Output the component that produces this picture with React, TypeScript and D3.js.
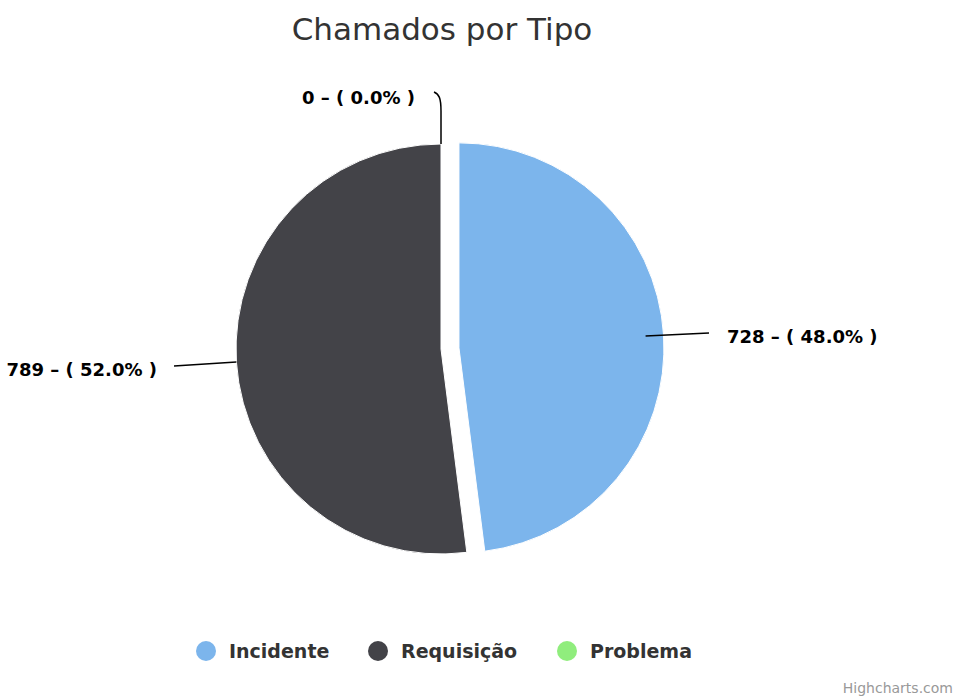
import React from "react";
import * as d3 from "d3";

const categories = ["Incidente", "Requisição", "Problema"];
const values = [728, 789, 0];
const colors = ["#7cb5ec", "#434348", "#90ed7d"];
const title = "Chamados por Tipo";

const W = 956, H = 698;
const cx = 441, cy = 349, R = 205, sliceOffset = 18;

export default function App() {
  const total = d3.sum(values);
  const pie = d3.pie<number>().sort(null).value((d) => d)(values);
  const arc = d3.arc<d3.PieArcDatum<number>>().innerRadius(0).outerRadius(R);
  const fmt = (v: number) => `${v} – ( ${((v / total) * 100).toFixed(1)}% )`;
  const font = "'DejaVu Sans', sans-serif";

  const labels = pie.map((p, i) => {
    const mid = (p.startAngle + p.endAngle) / 2;
    const ex = cx + R * Math.sin(mid);
    const ey = cy - R * Math.cos(mid);
    return { i, mid, ex, ey };
  });

  return (
    <svg width={W} height={H} style={{ position: "absolute", left: 0, top: 0, background: "#fff" }}>
      <text x={442} y={40} textAnchor="middle" fontFamily={font} fontSize={31} fill="#333">{title}</text>
      <g>
        {pie.map((p, i) => {
          if (p.value === 0) return null;
          const mid = (p.startAngle + p.endAngle) / 2;
          const off = i === 0 ? sliceOffset : 0;
          const tx = cx + off * Math.sin(mid);
          const ty = cy - off * Math.cos(mid);
          return <path key={i} d={arc(p) || ""} transform={`translate(${tx},${ty})`} fill={colors[i]} stroke="#fff" strokeWidth={1} />;
        })}
      </g>
      {labels.map((l) => {
        const v = values[l.i];
        if (v === 0) {
          const x0 = cx, y0 = cy - R;
          return (
            <g key={l.i}>
              <path d={`M ${x0} ${y0} L ${x0} ${y0 - 33} C ${x0} ${y0 - 46}, ${x0 - 2} ${y0 - 50}, ${x0 - 7} ${y0 - 52}`} fill="none" stroke="#000" strokeWidth={1.5} />
              <text x={415} y={104} textAnchor="end" fontFamily={font} fontWeight="bold" fontSize={18} fill="#000">{fmt(v)}</text>
            </g>
          );
        }
        const right = Math.sin(l.mid) > 0;
        const lx = right ? cx + R + 63 : cx - R - 62;
        const ly = right ? l.ey - 3 : l.ey + 4;
        return (
          <g key={l.i}>
            <path d={`M ${l.ex} ${l.ey} L ${lx} ${ly}`} stroke="#000" strokeWidth={1.5} fill="none" />
            <text x={right ? lx + 18 : lx - 17} y={right ? 343 : 376} textAnchor={right ? "start" : "end"} fontFamily={font} fontWeight="bold" fontSize={18} fill="#000">{fmt(v)}</text>
          </g>
        );
      })}
      {categories.map((c, i) => {
        const xs = [206, 378, 567];
        return (
          <g key={c}>
            <circle cx={xs[i]} cy={651} r={10} fill={colors[i]} />
            <text x={xs[i] + 23} y={658} fontFamily={font} fontWeight="bold" fontSize={19} fill="#333">{c}</text>
          </g>
        );
      })}
      <text x={953} y={693} textAnchor="end" fontFamily={font} fontSize={14} fill="#999">Highcharts.com</text>
    </svg>
  );
}
